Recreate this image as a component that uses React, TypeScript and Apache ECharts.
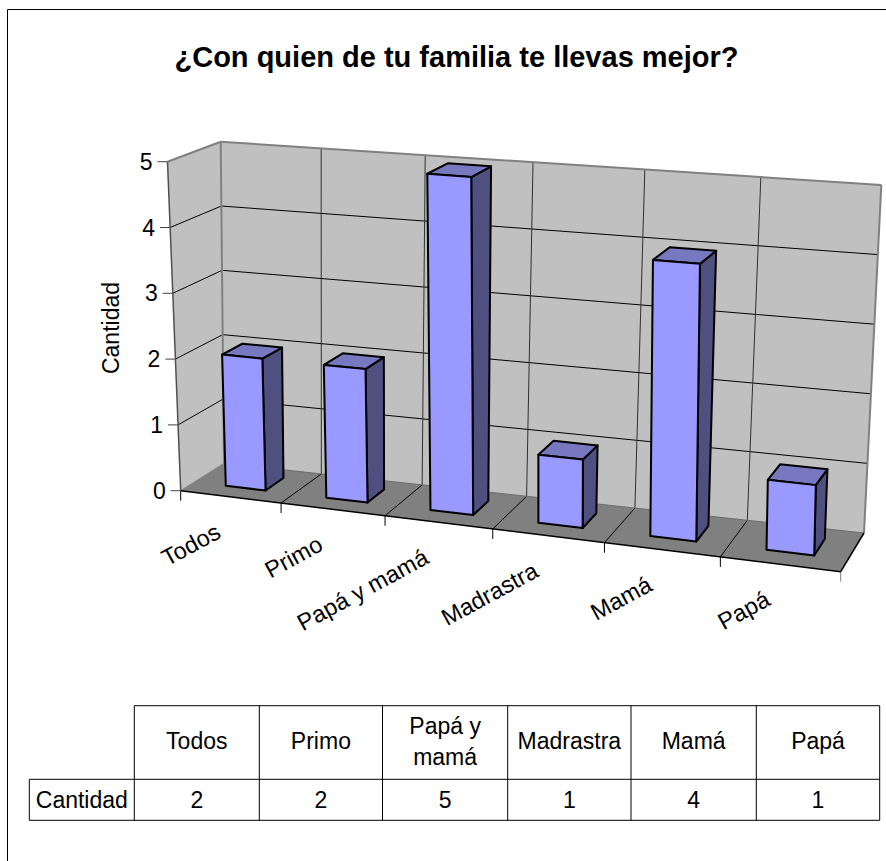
import React, { useEffect, useRef } from "react";
import * as echarts from "echarts";

const chartTitle = "¿Con quien de tu familia te llevas mejor?";
const seriesName = "Cantidad";
const categories = ["Todos", "Primo", "Papá y mamá", "Madrastra", "Mamá", "Papá"];
const values = [2, 2, 5, 1, 4, 1];
const yTicks = [0, 1, 2, 3, 4, 5];
const tableHeaders = ["Todos", "Primo", "Papá y\nmamá", "Madrastra", "Mamá", "Papá"];

const FONT = '"Liberation Sans", Arial, sans-serif';
const TEXT = "#000000";
const WALL = "#C0C0C0";
const FLOOR = "#808080";
const EDGE = "#808080";
const BAR_FRONT = "#9999FF";
const BAR_SIDE = "#4F4F80";
const BAR_TOP = "#7878C0";

type P = [number, number];
// Corners of the projected box: [value][depth][side]
const C: P[][][] = [
  [
    [[180.7, 490.7], [840.7, 571.7]],
    [[224, 463.3], [864, 533]],
  ],
  [
    [[167.5, 161.7], [846, 216]],
    [[220.7, 141.7], [881.3, 185]],
  ],
];
const PERSP = 1.115;
const warp = (u: number) => u / (PERSP - (PERSP - 1) * u);
const mix = (a: number, b: number, t: number) => a + (b - a) * t;
function project(uRaw: number, v: number, z: number): P {
  const u = warp(uRaw);
  const out: P = [0, 0];
  for (const k of [0, 1]) {
    const low = mix(mix(C[0][0][0][k], C[0][0][1][k], u), mix(C[0][1][0][k], C[0][1][1][k], u), z);
    const high = mix(mix(C[1][0][0][k], C[1][0][1][k], u), mix(C[1][1][0][k], C[1][1][1][k], u), z);
    out[k] = mix(low, high, v);
  }
  return out;
}

const BAR_L = 0.32;
const BAR_R = 0.72;
const BAR_Z0 = 0.315;
const BAR_Z1 = 0.75;

const poly = (points: P[], fill: string, stroke: string | undefined, lineWidth = 2) => ({
  type: "polygon",
  shape: { points },
  style: { fill, stroke: stroke ?? "none", lineWidth, lineJoin: "round" },
});
const seg = (a: P, b: P, stroke: string, lineWidth = 1) => ({
  type: "line",
  shape: { x1: a[0], y1: a[1], x2: b[0], y2: b[1] },
  style: { stroke, lineWidth },
});
const label = (text: string, x: number, y: number, align: string, rotation = 0, fontSize = 23, fontWeight = "normal") => ({
  type: "text",
  x,
  y,
  rotation,
  style: { text, x: 0, y: 0, fill: TEXT, fontSize, fontWeight, fontFamily: FONT, align, verticalAlign: "middle", lineHeight: 31 },
});

function renderFrame(params: any, api: any) {
  const cs = params.coordSys;
  const toV = (t: number) => (cs.y + cs.height - api.coord([0, t])[1]) / cs.height;
  const band = api.size([1, 0])[0];
  const edgesU = categories.map((_, i) => (api.coord([i, 0])[0] - band / 2 - cs.x) / cs.width);
  edgesU.push(1);
  const children: any[] = [];
  // walls + floor
  children.push(poly([project(0, 0, 0), project(0, 1, 0), project(0, 1, 1), project(0, 0, 1)], WALL, undefined));
  children.push(poly([project(0, 0, 1), project(0, 1, 1), project(1, 1, 1), project(1, 0, 1)], WALL, undefined));
  children.push(poly([project(0, 0, 0), project(1, 0, 0), project(1, 0, 1), project(0, 0, 1)], FLOOR, undefined));
  // value gridlines
  yTicks.forEach((t) => {
    const v = toV(t);
    if (t > 0 && t < yTicks[yTicks.length - 1]) {
      children.push(seg(project(0, v, 0), project(0, v, 1), "#000", 1));
      children.push(seg(project(0, v, 1), project(1, v, 1), "#000", 1));
    }
    const f = project(0, v, 0);
    children.push(seg([f[0] - 10, f[1]], f, "#404040", 1));
    children.push(label(String(t), f[0] - 15, f[1], "right"));
  });
  // category gridlines
  edgesU.forEach((u, i) => {
    if (i > 0 && i < edgesU.length - 1) {
      children.push(seg(project(u, 0, 1), project(u, 1, 1), "#303030", 1));
      children.push(seg(project(u, 0, 0), project(u, 0, 1), "#000", 1));
    }
    const f = project(u, 0, 0);
    children.push(seg(f, [f[0], f[1] + 10], i === edgesU.length - 1 ? EDGE : "#000", 1));
  });
  // wall edges
  children.push(seg(project(0, 1, 0), project(0, 1, 1), EDGE, 2));
  children.push(seg(project(0, 1, 1), project(1, 1, 1), EDGE, 2));
  children.push(seg(project(0, 0, 1), project(0, 1, 1), EDGE, 2));
  children.push(seg(project(1, 0, 1), project(1, 1, 1), EDGE, 2));
  children.push(seg(project(0, 0, 0), project(0, 1, 0), "#505050", 1.5));
  children.push(seg(project(0, 0, 0), project(0, 0, 1), EDGE, 1));
  children.push(seg(project(0, 0, 1), project(1, 0, 1), "#6a6a6a", 1));
  children.push(seg(project(0, 0, 0), project(1, 0, 0), "#000", 1.5));
  children.push(seg(project(1, 0, 0), project(1, 0, 1), "#000", 1.5));
  // category labels
  categories.forEach((c, i) => {
    const f = project((edgesU[i] + edgesU[i + 1]) / 2, 0, 0);
    children.push(label(c, f[0] - 12, f[1] + 33, "right", (28.5 * Math.PI) / 180, 23.5));
  });
  return { type: "group", children };
}

function renderBar(params: any, api: any) {
  const cs = params.coordSys;
  const top = api.coord([api.value(0), api.value(1)]);
  const band = api.size([1, 0])[0];
  const left = (top[0] - band / 2 + band * BAR_L - cs.x) / cs.width;
  const right = (top[0] - band / 2 + band * BAR_R - cs.x) / cs.width;
  const v = (cs.y + cs.height - top[1]) / cs.height;
  const a = project(left, 0, BAR_Z0);
  const b = project(right, 0, BAR_Z0);
  const c = project(right, v, BAR_Z0);
  const d = project(left, v, BAR_Z0);
  const e = project(right, 0, BAR_Z1);
  const f = project(right, v, BAR_Z1);
  const g = project(left, v, BAR_Z1);
  return {
    type: "group",
    children: [
      poly([b, c, f, e], BAR_SIDE, "#000"),
      poly([d, g, f, c], BAR_TOP, "#000"),
      poly([a, b, c, d], BAR_FRONT, "#000"),
    ],
  };
}

const TX = [134.3, 259.3, 382.5, 507.7, 631, 756.3, 879.7];
const TY = [705.7, 779.3, 820.3];
const CANTIDAD_X = 29.3;

function tableElements() {
  const line = (x1: number, y1: number, x2: number, y2: number) => ({
    type: "line",
    shape: { x1, y1, x2, y2 },
    style: { stroke: "#000", lineWidth: 1 },
  });
  const els: any[] = [
    line(TX[0], TY[0], TX[6], TY[0]),
    line(CANTIDAD_X, TY[1], TX[6], TY[1]),
    line(CANTIDAD_X, TY[2], TX[6], TY[2]),
    line(CANTIDAD_X, TY[1], CANTIDAD_X, TY[2]),
  ];
  TX.forEach((x) => els.push(line(x, TY[0], x, TY[2])));
  els.push(label(seriesName, CANTIDAD_X + 52.5, 800, "center"));
  tableHeaders.forEach((h, i) => {
    const cx = (TX[i] + TX[i + 1]) / 2;
    els.push(label(h, cx, 741, "center"));
    els.push(label(String(values[i]), cx, 800, "center"));
  });
  return els;
}

export default function App() {
  const ref = useRef<HTMLDivElement>(null);
  useEffect(() => {
    document.body.style.margin = "0";
    const chart = echarts.init(ref.current!, undefined, { renderer: "svg" });
    chart.setOption({
      animation: false,
      backgroundColor: "#FFFFFF",
      title: {
        text: chartTitle,
        left: 451.5,
        top: 37.5,
        textAlign: "center",
        textStyle: { fontFamily: FONT, fontWeight: "bold", fontSize: 29, color: TEXT },
      },
      grid: { left: 168, top: 142, width: 713, height: 430 },
      xAxis: { type: "category", data: categories, show: false },
      yAxis: { type: "value", min: 0, max: 5, interval: 1, show: false },
      graphic: [
        {
          type: "group",
          children: [
            { type: "line", shape: { x1: 7.5, y1: 9.5, x2: 886, y2: 9.5 }, style: { stroke: "#000", lineWidth: 1 } },
            { type: "line", shape: { x1: 7.5, y1: 9.5, x2: 7.5, y2: 861 }, style: { stroke: "#000", lineWidth: 1 } },
            label(seriesName, 111, 328, "center", Math.PI / 2),
            ...tableElements(),
          ],
        },
      ],
      series: [
        { type: "custom", name: "frame", silent: true, z: 1, data: [[0, 0]], renderItem: renderFrame, clip: false },
        {
          type: "custom",
          name: seriesName,
          silent: true,
          z: 2,
          data: values.map((v, i) => [i, v]),
          encode: { x: 0, y: 1 },
          renderItem: renderBar,
          clip: false,
        },
      ],
    });
    return () => chart.dispose();
  }, []);
  return <div ref={ref} style={{ width: 886, height: 861 }} />;
}
